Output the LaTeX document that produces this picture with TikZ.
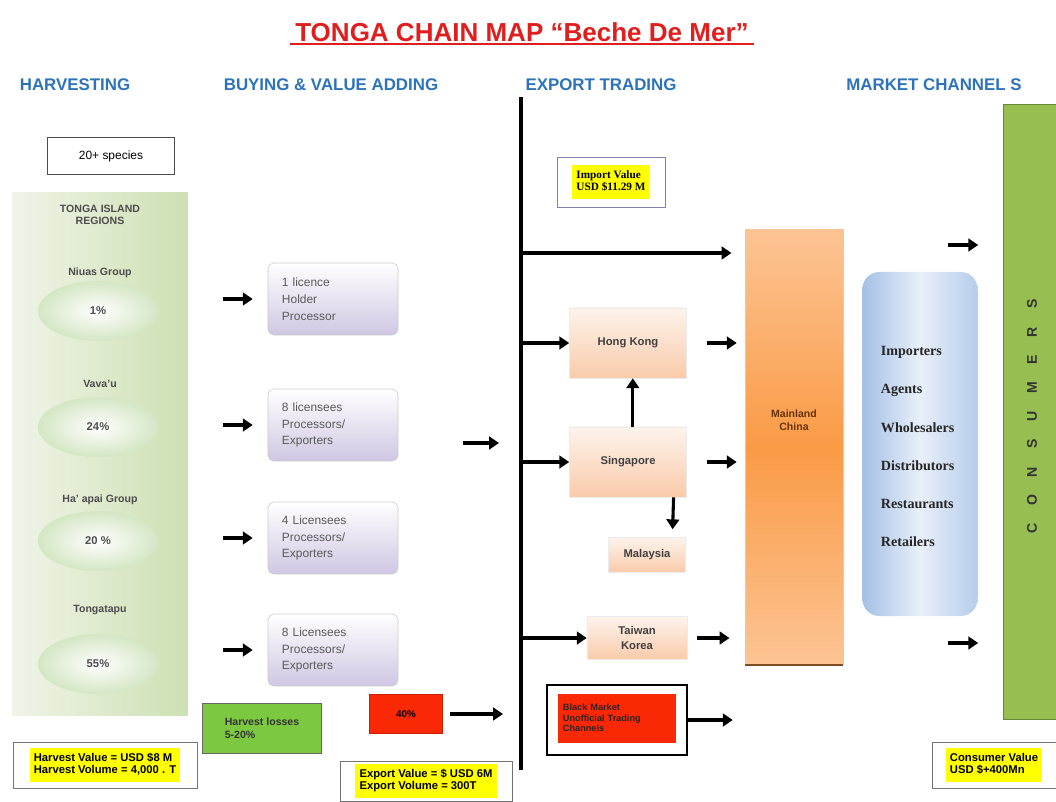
\documentclass[tikz,border=0pt]{standalone}
\usepackage{fontspec}
\setmainfont{Liberation Sans}
\newfontfamily\serifx{Liberation Serif}
\usetikzlibrary{arrows.meta,shapes.geometric}

\definecolor{titlered}{RGB}{225,30,30}
\definecolor{headblue}{RGB}{45,115,185}
\definecolor{hlyellow}{RGB}{255,255,0}
\definecolor{panelA}{RGB}{240,244,232}
\definecolor{panelB}{RGB}{205,224,178}
\definecolor{ellgreen}{RGB}{212,230,196}
\definecolor{procpurple}{RGB}{208,198,226}
\definecolor{ctrytop}{RGB}{253,243,236}
\definecolor{ctrybot}{RGB}{250,203,170}
\definecolor{chinalight}{RGB}{252,196,148}
\definecolor{chinaorange}{RGB}{250,155,70}
\definecolor{mkblue}{RGB}{165,192,230}
\definecolor{consgreen}{RGB}{150,190,80}
\definecolor{lossgreen}{RGB}{125,200,65}
\definecolor{boxred}{RGB}{250,40,5}

\tikzset{
	arr/.style={line width=2.2pt,-{Triangle[length=7pt,width=9pt]}},
	head/.style={text=headblue,font=\fontsize{12}{14}\selectfont\bfseries},
	region/.style={text=black!70,font=\fontsize{7.5}{9}\selectfont\bfseries},
	share/.style={ellipse,inner color=white,outer color=ellgreen,minimum width=3cm,minimum height=1.5cm,text=black!70,font=\fontsize{8}{9}\selectfont\bfseries},
	proc/.style={draw=black!20,rounded corners=4pt,top color=white,bottom color=procpurple,minimum width=3.25cm,minimum height=1.8cm,
		text width=2.55cm,inner xsep=0.35cm,align=left,text=black!65,font=\fontsize{8.5}{12}\selectfont},
	ctry/.style={draw=black!8,top color=ctrytop,bottom color=ctrybot,text=black!75,font=\fontsize{8}{10}\selectfont\bfseries,align=center},
	ybox/.style={draw=black!55,fill=white,inner sep=1pt,font=\fontsize{8}{9}\selectfont\bfseries},
	item/.style={anchor=west,text=black!85,font=\serifx\fontsize{10}{12}\selectfont\bfseries}
}

\begin{document}
\begin{tikzpicture}[x=0.025cm,y=-0.025cm]
		%\draw[help lines] (0,0) grid (1056,801);
		\useasboundingbox (0,0) rectangle (1056,801);
		\node (title) at (522,32) [text=titlered,font=\fontsize{18.5}{21}\selectfont\bfseries] {TONGA CHAIN MAP ``Beche De Mer''};
		\draw[titlered,line width=1.3pt] ([yshift=2pt]title.south west) -- ([yshift=2pt]title.south east);
		\node (hharv) at (75,85) [head] {HARVESTING};
		\node (hbuy) at (331,85) [head] {BUYING \& VALUE ADDING};
		\node (hexp) at (601,85) [head] {EXPORT TRADING};
		\node (hmkt) at (934,85) [head] {MARKET CHANNEL S};

		% harvesting
		\node (species) at (111,156) [draw=black!70,line width=0.8pt,minimum width=3.175cm,minimum height=0.925cm,font=\fontsize{8.5}{10}\selectfont] {20+ species};
		\node (panel) at (100,454) [left color=panelA,right color=panelB,minimum width=4.375cm,minimum height=13.05cm] {};
		\node (tir) at (100,215) [region,align=center] {TONGA ISLAND\\REGIONS};
		\node (lniuas) at (100,273) [region] {Niuas Group};
		\node (niuas) at (98,311) [share] {1\%};
		\node (lvavau) at (100,384) [region] {Vava'u};
		\node (vavau) at (98,427) [share] {24\%};
		\node (lhaapai) at (100,500) [region] {Ha' apai Group};
		\node (haapai) at (98,541) [share] {20 \%};
		\node (ltonga) at (100,610) [region] {Tongatapu};
		\node (tonga) at (98,664) [share] {55\%};
		\node (harvval) at (105,765) [ybox,minimum width=4.6cm,minimum height=1.15cm] {\colorbox{hlyellow}{\begin{tabular}{@{}l@{}}Harvest Value = USD \$8 M\\Harvest Volume = 4,000 . T\end{tabular}}};

		% buying and value adding
		\node (p1) at (333,299) [proc] {1 licence\\Holder\\Processor};
		\node (p2) at (333,425) [proc] {8 licensees\\Processors/\\Exporters};
		\node (p3) at (333,538) [proc] {4 Licensees\\Processors/\\Exporters};
		\node (p4) at (333,650) [proc] {8 Licensees\\Processors/\\Exporters};
		\foreach \n in {p1,p2,p3,p4} {
			\draw[arr] ([xshift=-1.125cm]\n.west) -- ([xshift=-0.375cm]\n.west);
		}
		\coordinate (pa) at (463,443);
		\coordinate (pb) at (499,443);
		\draw[arr] (pa) -- (pb);
		\node (loss) at (262,728) [draw=black!60,fill=lossgreen,minimum width=2.975cm,minimum height=1.25cm,align=left,text=black!80,font=\fontsize{7.5}{9}\selectfont\bfseries] {Harvest losses\\5-20\%};
		\node (rd) at (406,714) [fill=boxred,draw=boxred!80!black,minimum width=1.825cm,minimum height=0.975cm,text=black,font=\fontsize{7}{8}\selectfont\bfseries] {40\%};

		% export trading
		\coordinate (vtop) at (521,97);
		\coordinate (vbot) at (521,770);
		\draw[line width=2.8pt] (vtop) -- (vbot);
		\draw[arr] ([xshift=0.18cm]rd.east) -- ([xshift=-0.45cm]rd.east -| vtop);
		\node (expval) at (426,781) [ybox,minimum width=4.3cm,minimum height=1cm] {\colorbox{hlyellow}{\begin{tabular}{@{}l@{}}Export Value = \$ USD 6M\\Export Volume = 300T\end{tabular}}};
		\node (impval) at (611,182) [draw=blue!40!black!50,fill=white,inner sep=2pt,minimum width=2.7cm,minimum height=1.25cm,font=\serifx\fontsize{8}{9}\selectfont\bfseries] {\colorbox{hlyellow}{\begin{tabular}{@{}l@{}}Import Value\\USD \$11.29 M\end{tabular}}};
		\node (hk) at (628,343) [ctry,minimum width=2.925cm,minimum height=1.75cm] {Hong Kong};
		\node (sg) at (628,462) [ctry,minimum width=2.925cm,minimum height=1.75cm] {Singapore};
		\node (my) at (647,555) [ctry,minimum width=1.925cm,minimum height=0.875cm] {Malaysia};
		\node (tw) at (637,638) [ctry,minimum width=2.5cm,minimum height=1.075cm] {Taiwan\\Korea};
		\node (bmo) at (617,720) [draw=black,line width=2pt,fill=white,minimum width=3.5cm,minimum height=1.75cm] {};
		\node (bm) at (617,718) [fill=boxred,minimum width=2.925cm,minimum height=1.225cm,text width=2.7cm,align=left,text=black!85,font=\fontsize{6.5}{7.5}\selectfont\bfseries] {Black Market\\Unofficial Trading\\Channels};
		\node (china) at (794,447) [top color=chinalight,bottom color=chinalight,middle color=chinaorange,draw=chinaorange!60,minimum width=2.45cm,minimum height=10.875cm] {};
		\node (chinatxt) at (794,420) [align=center,text=orange!40!black,font=\fontsize{7.5}{9}\selectfont\bfseries] {Mainland\\China};
		\draw[chinaorange!50!black,line width=1pt] (china.south west) -- (china.south east);
		\coordinate (bj) at (521,253);
		\draw[arr,line width=2.5pt,shorten >=0.33cm] (bj) -- (bj -| china.west);
		\foreach \n in {hk,sg,tw} {
			\draw[arr] (\n.west -| vtop) -- (\n.west);
		}
		\draw[arr] ([xshift=0.12cm]sg.north) -- ([xshift=0.12cm]hk.south);
		\draw[arr] ([xshift=-0.33cm]sg.south east) -- ([xshift=-0.33cm,yshift=0.2cm]my.north east);
		\draw[arr] ([xshift=0.5cm]hk.east) -- ([xshift=-0.2cm]hk.east -| china.west);
		\draw[arr] ([xshift=0.5cm]sg.east) -- ([xshift=-0.2cm]sg.east -| china.west);
		\draw[arr] ([xshift=0.25cm]tw.east) -- ([xshift=-0.38cm]tw.east -| china.west);
		\draw[arr] (bmo.east) -- ([xshift=-0.3cm]bmo.east -| china.west);

		% market channels
		\node (mkt) at (920,444) [rounded corners=12pt,left color=mkblue,right color=mkblue!80,middle color=mkblue!25,minimum width=2.875cm,minimum height=8.6cm] {};
		\foreach \t [count=\i] in {Importers,Agents,Wholesalers,Distributors,Restaurants,Retailers} {
			\node (mc\i) at (876,314+38*\i) [item] {\t};
		}
		\node (cons) at (1030,412) [fill=consgreen,draw=consgreen!70!black,minimum width=1.325cm,minimum height=15.375cm] {};
		\foreach \l [count=\i] in {C,O,N,S,U,M,E,R,S} {
			\node (cl\i) at (1032,556-28*\i) [rotate=90,text=black!80,font=\fontsize{10}{12}\selectfont\bfseries] {\l};
		}
		\coordinate (m1) at (948,245);
		\coordinate (m2) at (948,643);
		\draw[arr,shorten >=0.625cm] (m1) -- (m1 -| cons.west);
		\draw[arr,shorten >=0.625cm] (m2) -- (m2 -| cons.west);
		\node (consval) at (994,765) [ybox,minimum width=3.1cm,minimum height=1.15cm] {\colorbox{hlyellow}{\begin{tabular}{@{}l@{}}Consumer Value\\USD \$+400Mn\end{tabular}}};
\end{tikzpicture}
\end{document}
